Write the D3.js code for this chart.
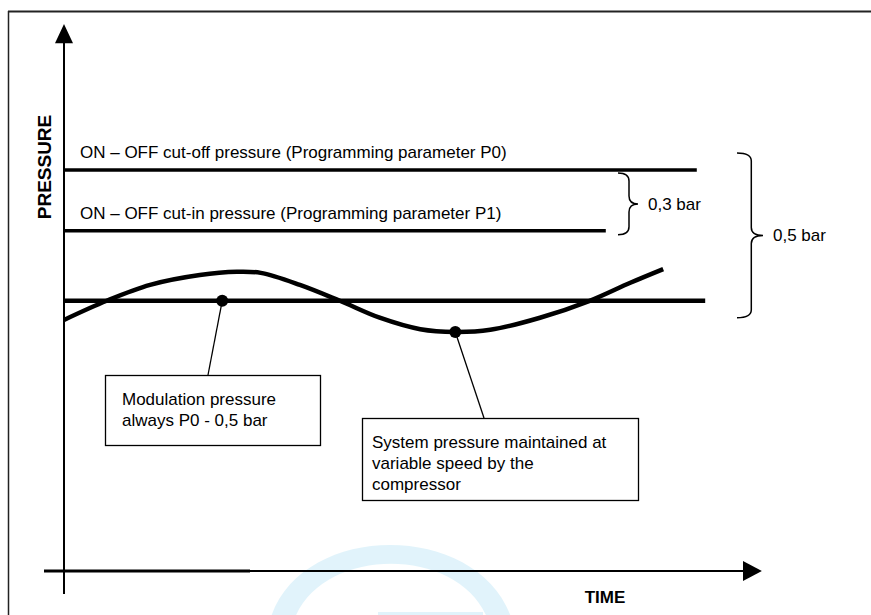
<!DOCTYPE html>
<html>
<head>
<meta charset="utf-8">
<script src="https://cdn.jsdelivr.net/npm/d3@7"></script>
<style>
  body { margin: 0; background: #fff; }
  svg { display: block; font-family: "Liberation Sans", Arial, sans-serif; }
</style>
</head>
<body>
<div id="chart"></div>
<script>
// pressure levels (schematic units, 0..100 on both axes)
var levelNames = ["P0", "P1", "Modulation"];
var levelPressure = [73.3, 62.2, 49.4];
var levelEndTime = [90.4, 77.4, 91.6];
var levelLabels = ["ON \u2013 OFF cut-off pressure (Programming parameter P0)",
                   "ON \u2013 OFF cut-in pressure (Programming parameter P1)", ""];

// system pressure curve
var curveTime = [0, 6.1, 12.3, 19.4, 24.7, 28.1, 33.7, 39.4, 45.1, 50.9, 55.9, 60.9, 68, 75.1, 80.9, 85.6];
var curvePressure = [45.9, 49.4, 52.3, 54.1, 54.7, 54.5, 52.3, 49.4, 46.3, 44.2, 43.7, 44.1, 46.3, 49.4, 52.7, 55.2];

// brackets: from level, to level, label
var bracketLabels = ["0,3 bar", "0,5 bar"];
var bracketFrom = ["P0", "P0"];
var bracketTo = ["P1", "Modulation"];

// annotation boxes
var noteLines = [["Modulation pressure", "always P0 - 0,5 bar"],
                 ["System pressure maintained at", "variable speed by the", "compressor"]];

var width = 871, height = 615;

var svg = d3.select("#chart").append("svg")
    .attr("width", width)
    .attr("height", height);

var x = d3.scaleLinear().domain([0, 100]).range([64, 764]);
var y = d3.scaleLinear().domain([0, 100]).range([571, 24]);

function levelY(name) { return y(levelPressure[levelNames.indexOf(name)]); }

// faint watermark arch at the bottom
var wm = svg.append("g").attr("opacity", 0.55);
wm.append("path")
    .attr("d", "M270,620 C300,520 480,520 512,620 L488,620 C460,545 322,545 294,620 Z")
    .attr("fill", "#c9ebf8");
wm.append("rect").attr("x", 378).attr("y", 612).attr("width", 105).attr("height", 4).attr("fill", "#c9ebf8");

// page frame
svg.append("line").attr("x1", 8).attr("x2", width).attr("y1", 11.5).attr("y2", 11.5)
    .attr("stroke", "#222").attr("stroke-width", 2);
svg.append("line").attr("x1", 8.5).attr("x2", 8.5).attr("y1", 11).attr("y2", height)
    .attr("stroke", "#222").attr("stroke-width", 1.5);

// axes
svg.append("line").attr("x1", x(0)).attr("x2", x(0)).attr("y1", y(97)).attr("y2", 594)
    .attr("stroke", "#000").attr("stroke-width", 2);
svg.append("path")
    .attr("d", "M" + x(0) + "," + y(100) + "L" + (x(0) - 9) + "," + y(96.5) + "L" + (x(0) + 9) + "," + y(96.5) + "Z")
    .attr("fill", "#000");
svg.append("line").attr("x1", 44).attr("x2", x(97)).attr("y1", y(0)).attr("y2", y(0))
    .attr("stroke", "#000").attr("stroke-width", 2);
svg.append("line").attr("x1", 44).attr("x2", 250).attr("y1", y(0)).attr("y2", y(0))
    .attr("stroke", "#000").attr("stroke-width", 3);
svg.append("path")
    .attr("d", "M" + x(99.7) + "," + y(0) + "L" + x(97) + "," + (y(0) - 10) + "L" + x(97) + "," + (y(0) + 10) + "Z")
    .attr("fill", "#000");

svg.append("text")
    .attr("transform", "translate(51," + 167 + ") rotate(-90)")
    .attr("text-anchor", "middle")
    .attr("font-weight", "bold")
    .attr("font-size", "19px")
    .text("PRESSURE");
svg.append("text")
    .attr("x", 605).attr("y", 603)
    .attr("text-anchor", "middle")
    .attr("font-weight", "bold")
    .attr("font-size", "17px")
    .text("TIME");

// level lines
svg.selectAll(".level")
    .data(levelNames)
    .enter()
    .append("line")
    .attr("class", "level")
    .attr("x1", x(0))
    .attr("x2", function (d, i) { return x(levelEndTime[i]); })
    .attr("y1", function (d, i) { return y(levelPressure[i]); })
    .attr("y2", function (d, i) { return y(levelPressure[i]); })
    .attr("stroke", "#000")
    .attr("stroke-width", function (d, i) { return i == 2 ? 4.5 : 3.5; });

svg.selectAll(".levelLabel")
    .data(levelLabels.filter(function (d) { return d != ""; }))
    .enter()
    .append("text")
    .attr("x", 80)
    .attr("y", function (d, i) { return y(levelPressure[i]) - 12; })
    .attr("font-size", "17px")
    .text(function (d) { return d; });

// system pressure curve
var pts = curveTime.map(function (t, i) { return [t, curvePressure[i]]; });
var line = d3.line()
    .x(function (d) { return x(d[0]); })
    .y(function (d) { return y(d[1]); })
    .curve(d3.curveCatmullRom.alpha(0.5));
svg.append("path")
    .datum(pts)
    .attr("d", line)
    .attr("fill", "none")
    .attr("stroke", "#000")
    .attr("stroke-width", 4.5);

// curly brackets
function brace(x0, y0, y1, w) {
    var xm = x0 + w * 0.55, ym = (y0 + y1) / 2, r = Math.min(8, (y1 - y0) / 6);
    return "M" + x0 + "," + y0 +
        "Q" + xm + "," + y0 + " " + xm + "," + (y0 + r) +
        "L" + xm + "," + (ym - r) +
        "Q" + xm + "," + ym + " " + (x0 + w) + "," + ym +
        "Q" + xm + "," + ym + " " + xm + "," + (ym + r) +
        "L" + xm + "," + (y1 - r) +
        "Q" + xm + "," + y1 + " " + x0 + "," + y1;
}
var braceX = [618, 737], braceW = [20, 26], braceExtra = [3, 17];
bracketLabels.forEach(function (lab, i) {
    var y0 = levelY(bracketFrom[i]) - (i == 0 ? -3 : braceExtra[i]);
    var y1 = levelY(bracketTo[i]) + (i == 0 ? 4 : braceExtra[i]);
    svg.append("path")
        .attr("d", brace(braceX[i], y0, y1, braceW[i]))
        .attr("fill", "none")
        .attr("stroke", "#000")
        .attr("stroke-width", 1.5);
    svg.append("text")
        .attr("x", braceX[i] + braceW[i] + 10)
        .attr("y", (y0 + y1) / 2 + 6)
        .attr("font-size", "17px")
        .text(lab);
});

// annotation dots, leaders and boxes
var dotPos = [[x(22.6), levelY("Modulation")], [x(55.9), y(43.7)]];
var boxRect = [[105, 375, 215, 70], [362, 418, 276, 82]];
var leaderEnd = [[208, 375], [484, 418]];

boxRect.forEach(function (b, i) {
    svg.append("line")
        .attr("x1", dotPos[i][0]).attr("y1", dotPos[i][1])
        .attr("x2", leaderEnd[i][0]).attr("y2", leaderEnd[i][1])
        .attr("stroke", "#000").attr("stroke-width", 1.3);
    svg.append("circle")
        .attr("cx", dotPos[i][0]).attr("cy", dotPos[i][1])
        .attr("r", 6).attr("fill", "#000");
    svg.append("rect")
        .attr("x", b[0] + 0.5).attr("y", b[1] + 0.5)
        .attr("width", b[2]).attr("height", b[3])
        .attr("fill", "#fff").attr("stroke", "#000").attr("stroke-width", 1.3);
    svg.append("text")
        .attr("font-size", "17px")
        .selectAll("tspan")
        .data(noteLines[i])
        .enter()
        .append("tspan")
        .attr("x", b[0] + (i == 0 ? 17 : 10))
        .attr("y", function (d, j) { return b[1] + 30 + j * 21; })
        .text(function (d) { return d; });
});
</script>
</body>
</html>
